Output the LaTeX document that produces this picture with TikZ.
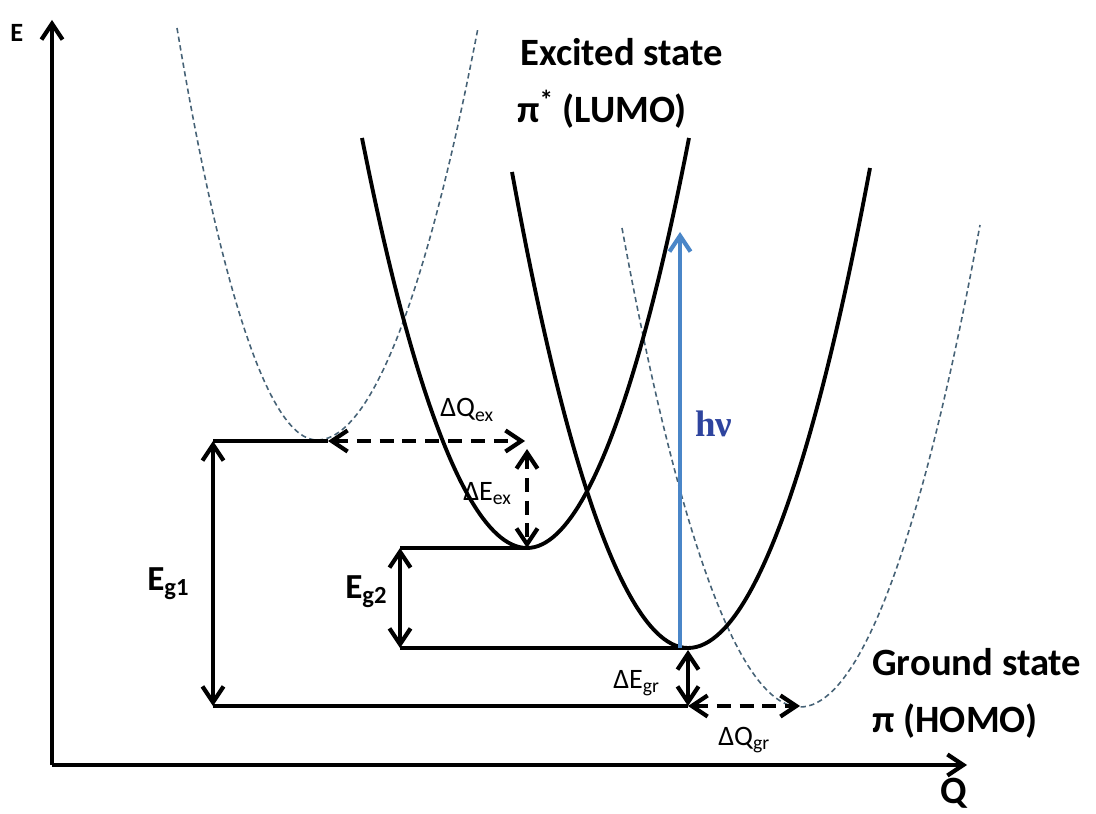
\documentclass[tikz,border=0pt]{standalone}
\usepackage{fontspec}
\setmainfont{Carlito}
\newfontfamily\photonfont{Liberation Serif}
\usetikzlibrary{arrows.meta,calc,positioning}
\definecolor{photonblue}{RGB}{74,134,200}
\definecolor{photontext}{RGB}{46,68,158}
\definecolor{shiftgray}{RGB}{70,98,118}

\begin{document}
\begin{tikzpicture}[
  x={(0.02cm,0cm)},
  y={(0cm,-0.02cm)},
  >={Straight Barb[length=9pt,width=12pt]},
  axis/.style={->,line width=2.4pt},
  bandline/.style={line width=2.4pt},
  gaparrow/.style={<->,line width=2.4pt},
  shiftarrow/.style={<->,line width=2.4pt,dash pattern=on 8pt off 5pt},
  pes/.style={line width=2.2pt},
  pesshift/.style={line width=0.9pt,shiftgray,dash pattern=on 3pt off 2pt},
  lightray/.style={->,line width=2.4pt,photonblue},
  statelabel/.style={
    font=\bfseries\fontsize{22}{26}\selectfont,
    anchor=base west,
    inner sep=0pt
  },
  deltalabel/.style={
    font=\fontsize{16}{19}\selectfont,
    anchor=base west,
    inner sep=0pt
  },
  gaplabel/.style={
    font=\bfseries\fontsize{20}{24}\selectfont,
    anchor=base west,
    inner sep=0pt
  }
]
\useasboundingbox (0,0) rectangle (1096,814);

% Axes
\coordinate (O) at (52,765);
\coordinate (Etip) at (52,20);
\coordinate (Qtip) at (967,765);

% Minima of the four curves
\coordinate (ExV) at (527,548);
\coordinate (GrV) at (688,648);
\coordinate (DxV) at (317,440);
\coordinate (DgV) at (800,707);

% Ends of the branches
\coordinate (ExL) at (362,138);
\coordinate (ExR) at (689,138);
\coordinate (GrL) at (512,172);
\coordinate (GrR) at (870,168);
\coordinate (DxL) at (177,28);
\coordinate (DxR) at (478,28);
\coordinate (DgL) at (622,228);
\coordinate (DgR) at (980,225);

% Energy levels
\coordinate (Lone) at (213,441);
\coordinate (Ltwo) at (213,706);
\coordinate (QexL) at (328,441);
\coordinate (QexR) at (525,441);
\coordinate (EexT) at (527,449);
\coordinate (Mone) at (400,548);
\coordinate (Mtwo) at (400,648);
\coordinate (EgrT) at (688,650);
\coordinate (EgrB) at (688,706);
\coordinate (QgrR) at (800,706);
\coordinate (Hbot) at (680,648);
\coordinate (Htop) at (680,232);

% Displaced curves
\draw[pesshift] (DxL) parabola bend (DxV) (DxR);
\draw[pesshift] (DgL) parabola bend (DgV) (DgR);

% Excited and ground state
\draw[pes] (ExL) parabola bend (ExV) (ExR);
\draw[pes] (GrL) parabola bend (GrV) (GrR);

% Levels
\draw[bandline] (Lone)--(QexL);
\draw[bandline] (Mone)--(ExV);
\draw[bandline] (Mtwo)--(GrV);
\draw[bandline] (Ltwo)--(EgrB);

% Gaps and shifts
\draw[gaparrow] (Lone)--(Ltwo);
\draw[gaparrow] (Mone)--(Mtwo);
\draw[gaparrow] (EgrT)--(EgrB);
\draw[shiftarrow] (QexL)--(QexR);
\draw[shiftarrow] (EexT)--(ExV);
\draw[shiftarrow] (EgrB)--(QgrR);

% Absorption
\draw[lightray] (Hbot)--(Htop);

% Axes
\draw[axis] (O)--(Etip);
\draw[axis] (O)--(Qtip);

% Labels
\node[statelabel,font=\bfseries\fontsize{15}{17}\selectfont] (Elabel) at (10,42) {E};
\node[statelabel] (Qlabel) at (940,803) {Q};
\node[statelabel] (exc) at (520,66) {Excited state};
\node[statelabel] (lumo) at (517,123) {π\textsuperscript{*} (LUMO)};
\node[statelabel] (gnd) at (872,675) {Ground state};
\node[statelabel] (homo) at (872,732) {π (HOMO)};

\node[gaplabel] (egone) at (147,590) {E\textsubscript{g1}};
\node[gaplabel] (egtwo) at (345,598) {E\textsubscript{g2}};

\node[deltalabel] (dqex) at (440,417) {ΔQ\textsubscript{ex}};
\node[deltalabel] (deex) at (463,500) {ΔE\textsubscript{ex}};
\node[deltalabel] (degr) at (613,688) {ΔE\textsubscript{gr}};
\node[deltalabel] (dqgr) at (718,745) {ΔQ\textsubscript{gr}};

\node[anchor=base west,inner sep=0pt,text=photontext,
  font=\photonfont\bfseries\fontsize{21}{24}\selectfont] (hnu) at (695,437) {hν};
\end{tikzpicture}
\end{document}
